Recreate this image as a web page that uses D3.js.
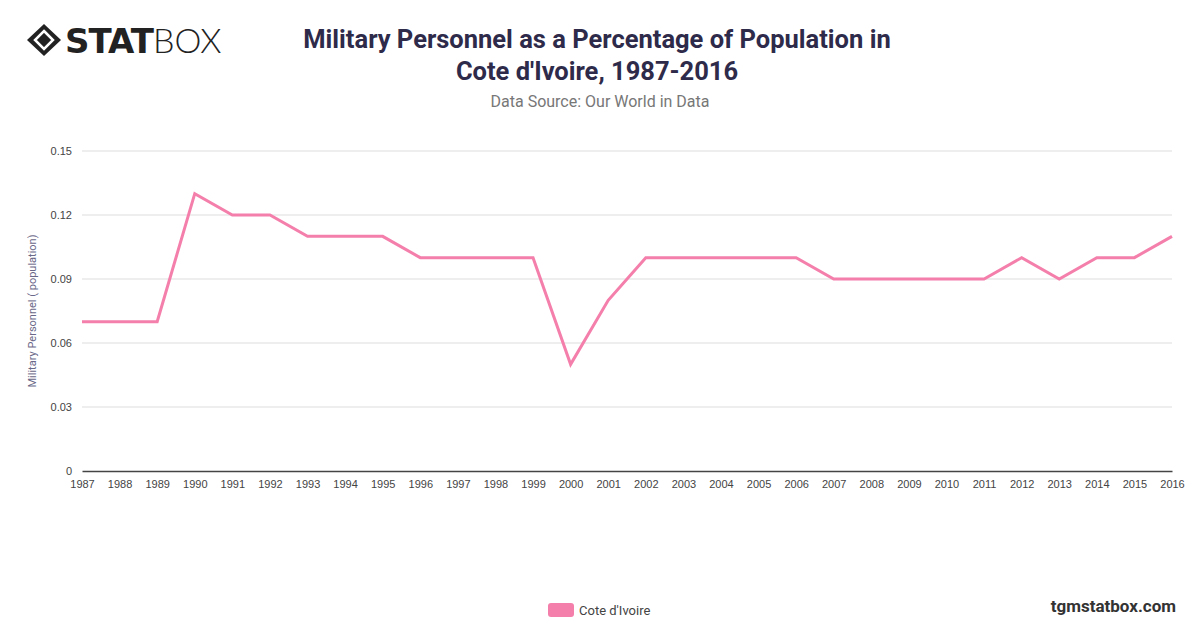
<!DOCTYPE html>
<html><head><meta charset="utf-8">
<script src="https://cdn.jsdelivr.net/npm/d3@7"></script>
<style>body{margin:0;background:#fff;font-family:Roboto,"Helvetica Neue",Arial,sans-serif}</style>
</head><body><div id="chart-area"></div>
<script>
const years = d3.range(1987, 2017)
const values = [0.07,0.07,0.07,0.13,0.12,0.12,0.11,0.11,0.11,0.10,0.10,0.10,0.10,0.05,0.08,
  0.10,0.10,0.10,0.10,0.10,0.09,0.09,0.09,0.09,0.09,0.10,0.09,0.10,0.10,0.11]
const yTicks = [0, 0.03, 0.06, 0.09, 0.12, 0.15]
const seriesName = "Cote d'Ivoire"
const pink = "#f47fab"

const svg = d3.select("#chart-area").append("svg").attr("width", 1200).attr("height", 628)

// logo
const logo = svg.append("g").attr("transform", "translate(27,24)")
logo.append("path").attr("d", "M17,0 L34,16 L17,32 L0,16 Z").attr("fill", "#222")
logo.append("path").attr("d", "M17,7 L26,16 L17,25 L8,16 Z").attr("fill", "none").attr("stroke", "#fff").attr("stroke-width", 2.5)
logo.append("text").attr("x", 38).attr("y", 29).attr("font-size", 34).attr("font-weight", 900)
  .attr("font-family", "'DejaVu Sans'").attr("fill", "#222").attr("letter-spacing", -1).text("STAT")
  .append("tspan").attr("font-weight", 300).attr("font-family", "Lato").attr("letter-spacing", 0).text("BOX")

// titles
svg.append("text").attr("x", 597).attr("y", 48).attr("text-anchor", "middle").attr("font-size", 25.5)
  .attr("font-weight", 700).attr("fill", "#2e2a4a").text("Military Personnel as a Percentage of Population in")
svg.append("text").attr("x", 597).attr("y", 80).attr("text-anchor", "middle").attr("font-size", 25.5)
  .attr("font-weight", 700).attr("fill", "#2e2a4a").text("Cote d'Ivoire, 1987-2016")
svg.append("text").attr("x", 600).attr("y", 107).attr("text-anchor", "middle").attr("font-size", 16)
  .attr("fill", "#777").text("Data Source: Our World in Data")

const x = d3.scaleLinear().domain([1987, 2016]).range([82, 1172])
const y = d3.scaleLinear().domain([0, 0.15]).range([471, 151])

// grid
svg.append("g").selectAll("line").data(yTicks.slice(1)).join("line")
  .attr("x1", 82).attr("x2", 1172).attr("y1", d => y(d)).attr("y2", d => y(d))
  .attr("stroke", "#ddd")

const yAxis = svg.append("g").attr("transform", "translate(75,0)")
  .call(d3.axisLeft(y).tickValues(yTicks).tickSize(0).tickFormat(d => d === 0 ? "0" : d3.format(".2f")(d)))
yAxis.select(".domain").remove()
yAxis.selectAll("text").attr("font-size", 11).attr("fill", "#444")

const xAxis = svg.append("g").attr("transform", "translate(0,471)")
  .call(d3.axisBottom(x).tickValues(years).tickFormat(d3.format("d")).tickSize(0).tickPadding(9))
xAxis.select(".domain").attr("stroke", "#444").attr("stroke-width", 1.5)
xAxis.selectAll("text").attr("font-size", 11).attr("fill", "#444")

svg.append("text").attr("transform", "rotate(-90)").attr("x", -311).attr("y", 36)
  .attr("text-anchor", "middle").attr("font-size", 11).attr("fill", "#6a6888")
  .text("Military Personnel ( population)")

const line = d3.line().x((d, i) => x(years[i])).y(d => y(d))
svg.append("path").attr("d", line(values)).attr("fill", "none").attr("stroke", pink).attr("stroke-width", 3)

// legend
svg.append("rect").attr("x", 548).attr("y", 603).attr("width", 26).attr("height", 14).attr("rx", 3).attr("fill", pink)
svg.append("text").attr("x", 579).attr("y", 615).attr("font-size", 13).attr("fill", "#444").text(seriesName)

svg.append("text").attr("x", 1176).attr("y", 612).attr("text-anchor", "end").attr("font-size", 17)
  .attr("font-weight", 700).attr("fill", "#333").text("tgmstatbox.com")
</script></body></html>
